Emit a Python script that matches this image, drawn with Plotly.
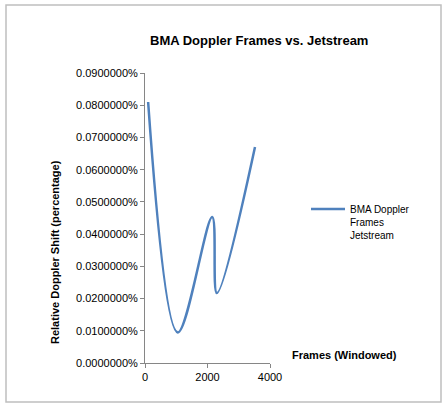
import plotly.graph_objects as go

# Data
frames = [100, 1050, 2150, 2300, 3520]
doppler = [0.00081, 0.000095, 0.000453, 0.000217, 0.00067]
y_ticks = [i * 0.0001 for i in range(10)]
x_ticks = [0, 2000, 4000]

series_name = "BMA Doppler<br>Frames<br>Jetstream"
title_text = "BMA Doppler Frames vs. Jetstream"
y_title = "Relative Doppler Shift (percentage)"
x_title = "Frames (Windowed)"

W, H = 444, 406
L, R, T, B = 145, 174, 73, 43
pw = W - L - R
ph = H - T - B

def px_x(p):
    return (p - L) / pw

def px_y(p):
    return (H - B - p) / ph

fig = go.Figure()
fig.add_trace(go.Scatter(
    x=frames, y=doppler, mode="lines", name=series_name,
    line=dict(color="#4F81BD", width=2.5, shape="spline", smoothing=1.0),
))

axis_common = dict(
    showgrid=False, zeroline=False, showline=True, linecolor="#868686", linewidth=1,
    ticks="outside", ticklen=4, tickcolor="#868686",
    tickfont=dict(family="Liberation Sans, Arial", size=11, color="#000"),
)
fig.update_xaxes(range=[0, 4000], tickvals=x_ticks, **axis_common)
fig.update_yaxes(range=[0, 0.0009], tickvals=y_ticks, tickformat=".7%", **axis_common)

fig.update_layout(
    width=W, height=H,
    margin=dict(l=L, r=R, t=T, b=B),
    paper_bgcolor="white", plot_bgcolor="white",
    font=dict(family="Liberation Sans, Arial", size=10, color="#000"),
    showlegend=True,
    legend=dict(x=px_x(306), y=px_y(222), xanchor="left", yanchor="middle", valign="top",
                font=dict(size=10), itemwidth=34, bgcolor="rgba(0,0,0,0)"),
    annotations=[
        dict(text="<b>" + title_text + "</b>", x=px_x(259), y=px_y(40), xref="paper", yref="paper",
             xanchor="center", yanchor="middle", showarrow=False, font=dict(size=13)),
        dict(text="<b>" + y_title + "</b>", x=px_x(55), y=px_y(252), xref="paper", yref="paper",
             xanchor="center", yanchor="middle", showarrow=False, textangle=-90, font=dict(size=11)),
        dict(text="<b>" + x_title + "</b>", x=px_x(290), y=px_y(355), xref="paper", yref="paper",
             xanchor="left", yanchor="middle", showarrow=False, font=dict(size=11)),
    ],
    shapes=[dict(type="rect", xref="paper", yref="paper",
                 x0=px_x(6), x1=px_x(441), y0=px_y(402), y1=px_y(5),
                 line=dict(color="#BFBFBF", width=1.5))],
)

fig.write_html("out.html", config={"displayModeBar": False},
               post_script="document.body.style.margin='0';")
